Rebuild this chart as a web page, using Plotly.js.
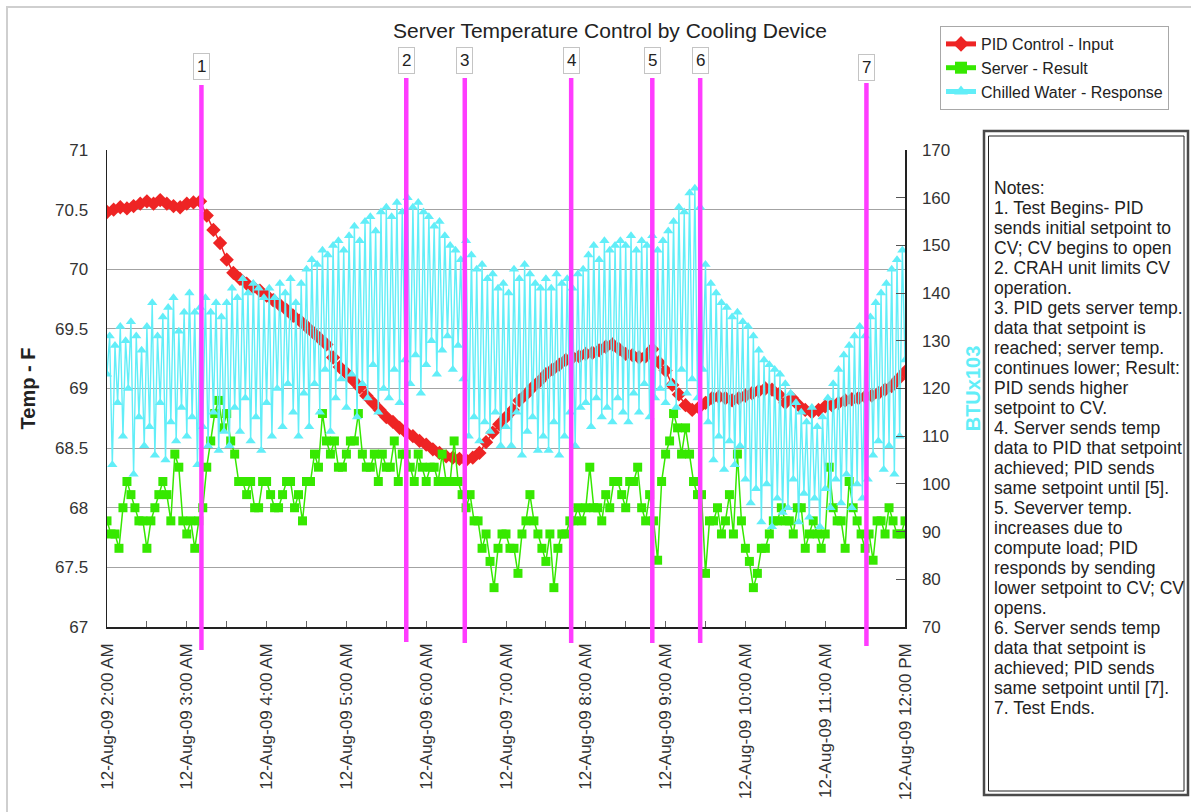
<!DOCTYPE html>
<html><head><meta charset="utf-8">
<script src="https://cdn.plot.ly/plotly-3.0.1.min.js"></script>
<style>html,body{margin:0;padding:0;background:#fff;}#chart{width:1191px;height:812px;}</style>
</head><body><div id="chart"></div>
<script>
// ---------- DATA ----------
const startHour = 2;            // 12-Aug-09 2:00 AM
const pidStepMin = 5;
const pidInput = [
 70.48,70.50,70.52,70.51,70.53,70.55,70.57,70.55,70.58,70.55,
 70.53,70.52,70.55,70.56,70.57,70.45,70.33,70.22,70.08,69.97,
 69.92,69.88,69.85,69.82,69.78,69.74,69.70,69.66,69.61,69.57,
 69.52,69.47,69.42,69.37,69.26,69.18,69.13,69.07,69.01,68.94,
 68.88,68.82,68.76,68.72,68.67,68.63,68.60,68.56,68.53,68.49,
 68.46,68.43,68.42,68.41,68.40,68.42,68.46,68.55,68.63,68.70,
 68.76,68.82,68.90,68.95,69.01,69.06,69.12,69.16,69.20,69.24,
 69.26,69.27,69.29,69.30,69.32,69.35,69.37,69.33,69.29,69.28,
 69.26,69.27,69.33,69.22,69.15,69.03,68.95,68.86,68.82,68.84,
 68.88,68.92,68.93,68.92,68.90,68.92,68.94,68.96,68.98,69.00,
 68.99,68.95,68.88,68.92,68.86,68.82,68.80,68.82,68.85,68.86,
 68.88,68.90,68.91,68.92,68.93,68.94,68.96,68.99,69.02,69.08,
 69.14];
const serverStepMin = 3;
const serverResult = [
 67.89,67.78,67.78,67.66,68.00,68.22,68.11,68.00,67.89,67.89,
 67.66,67.89,68.00,68.11,68.22,68.11,67.89,68.45,68.34,67.89,
 67.78,67.89,67.66,67.89,68.00,68.34,68.56,68.79,68.90,68.67,
 68.79,68.56,68.45,68.22,68.22,68.11,68.22,68.00,68.00,68.22,
 68.22,68.11,68.00,68.00,68.11,68.22,68.22,68.00,68.11,67.89,
 68.22,68.22,68.45,68.34,68.79,68.56,68.45,68.56,68.34,68.34,
 68.45,68.56,68.56,68.79,68.45,68.34,68.34,68.45,68.22,68.45,
 68.34,68.34,68.56,68.22,68.45,68.45,68.34,68.22,68.45,68.34,
 68.22,68.34,68.34,68.22,68.45,68.22,68.22,68.56,68.22,68.11,
 68.00,68.11,67.89,67.89,67.66,67.78,67.55,67.33,67.66,67.78,
 67.78,67.66,67.66,67.45,67.78,67.89,68.11,67.89,67.78,67.66,
 67.55,67.78,67.33,67.66,67.78,67.78,67.89,67.89,68.00,67.89,
 68.00,68.34,68.00,68.00,67.89,68.11,68.00,68.22,68.22,68.11,
 68.00,68.22,68.22,68.34,68.00,67.89,68.11,67.89,67.56,68.22,
 68.45,68.56,68.79,68.67,68.45,68.67,68.45,68.22,68.11,68.11,
 67.45,67.89,67.89,68.00,67.78,67.89,68.11,67.78,68.45,67.89,
 67.66,67.55,67.33,67.45,67.66,67.66,67.78,67.89,67.89,68.00,
 67.89,67.89,67.78,68.00,68.00,67.66,67.78,67.89,67.78,67.66,
 67.78,68.34,68.00,67.89,67.89,67.66,68.22,68.00,67.89,67.78,
 67.66,67.78,67.56,67.89,67.89,67.78,68.00,67.89,67.78,67.78,
 67.89];
const waterStepMin = 2;
const chilledWater = [
 123,131,104,129,117,133,110,130,120,134,102,131,114,128,108,
 133,112,138,106,131,117,135,105,137,113,139,109,132,116,136,
 110,140,114,136,104,137,112,139,108,136,115,138,107,135,111,
 138,108,141,116,139,111,143,118,140,109,142,114,141,107,139,
 117,141,110,139,120,142,112,140,121,143,115,138,110,142,119,
 145,112,147,121,146,115,149,124,148,111,150,118,151,122,149,
 116,152,123,154,114,151,121,155,118,156,125,153,115,157,120,
 158,118,156,124,159,117,157,126,160,121,158,127,159,119,157,
 125,156,130,154,123,155,128,152,131,150,124,149,129,147,122,
 151,110,148,114,145,109,146,113,143,111,144,115,141,108,142,
 112,140,108,145,115,143,106,146,111,144,114,142,107,141,110,
 143,107,141,113,144,106,142,110,143,115,141,108,144,116,145,
 117,148,112,150,118,147,114,151,116,149,113,150,118,151,115,
 150,113,152,119,149,115,151,121,150,114,152,118,149,120,151,
 117,153,121,155,116,158,124,157,119,161,122,162,118,158,124,
 146,113,142,105,140,110,138,103,137,109,135,104,136,108,134,
 101,133,96,131,99,128,92,126,100,125,91,124,97,123,94,
 121,95,119,101,117,92,115,98,113,93,116,97,112,91,114,
 99,118,95,121,101,124,96,127,102,129,95,131,100,133,97,
 131,101,135,106,138,109,140,103,142,108,145,102,147,110,149,
 126];
const seriesNames = ['PID Control - Input','Server - Result','Chilled Water - Response'];
const eventLabels = ['1','2','3','4','5','6','7'];
const eventTimes = ['2009-08-12 03:11','2009-08-12 05:45','2009-08-12 06:29','2009-08-12 07:49',
                    '2009-08-12 08:50','2009-08-12 09:26','2009-08-12 11:31'];
const tickTimes = [];
const tickLabels = ['12-Aug-09 2:00 AM','','12-Aug-09 3:00 AM','','12-Aug-09 4:00 AM','',
 '12-Aug-09 5:00 AM','','12-Aug-09 6:00 AM','','12-Aug-09 7:00 AM','','12-Aug-09 8:00 AM','',
 '12-Aug-09 9:00 AM','','12-Aug-09 10:00 AM','','12-Aug-09 11:00 AM','','12-Aug-09 12:00 PM'];
const notesLines = ['Notes:','1. Test Begins- PID','sends initial setpoint to','CV; CV begins to open',
 '2. CRAH unit limits CV','operation.','3. PID gets server temp.','data that setpoint is',
 'reached; server temp.','continues lower; Result:','PID sends higher','setpoint to CV.',
 '4. Server sends temp','data to PID that setpoint','achieved; PID sends','same setpoint until [5].',
 '5. Severver temp.','increases due to','compute load; PID','responds by sending',
 'lower setpoint to CV; CV','opens.','6. Server sends temp','data that setpoint is',
 'achieved; PID sends','same setpoint until [7].','7. Test Ends.'];

// ---------- helpers ----------
function timeAt(min){
  const t = startHour*60 + min;
  const h = Math.floor(t/60), m = t%60;
  return '2009-08-12 ' + String(h).padStart(2,'0') + ':' + String(m).padStart(2,'0');
}
function times(n, step){ const a=[]; for(let i=0;i<n;i++) a.push(timeAt(i*step)); return a; }
for (let i=0;i<tickLabels.length;i++) tickTimes.push(timeAt(i*30));

// pixel -> paper helpers (plot area 107..905 x 150..627)
const L=107, R=905, T=150, B=627;
const px = x => (x-L)/(R-L);
const py = y => (B-y)/(B-T);

const FONT = 'Liberation Sans, Arial, sans-serif';
const RED='#ee2424', GREEN='#36e800', CYAN='#62eef8', MAG='#ff3cff';

const traces = [
 {x: times(pidInput.length,pidStepMin), y: pidInput, name: seriesNames[0], type:'scatter', mode:'lines+markers',
  line:{color:RED,width:1.5}, marker:{symbol:'diamond',size:11,color:RED}, yaxis:'y'},
 {x: times(serverResult.length,serverStepMin), y: serverResult, name: seriesNames[1], type:'scatter', mode:'lines+markers',
  line:{color:GREEN,width:1.5}, marker:{symbol:'square',size:9,color:GREEN}, yaxis:'y'},
 {x: times(chilledWater.length,waterStepMin), y: chilledWater, name: seriesNames[2], type:'scatter', mode:'lines+markers',
  line:{color:CYAN,width:1.4}, marker:{symbol:'triangle-up',size:9,color:CYAN}, yaxis:'y2'}
];

// event line vertical extents / label centers (pixels)
const evTop = [85,78,78,78,78,78,83];
const evBot = [650,642,643,643,643,643,646];
const evLab = [67,61,61,61,61,61,68];

const shapes = [
 {type:'rect', xref:'paper', yref:'paper', x0:px(7), x1:px(1240), y0:py(7), y1:py(900),
  line:{color:'#cfcfcf',width:2}, layer:'below'},
 {type:'rect', xref:'paper', yref:'paper', x0:px(984), x1:px(1188), y0:py(131), y1:py(795),
  line:{color:'#4a4a4a',width:2.5}},
 {type:'rect', xref:'paper', yref:'paper', x0:px(988.5), x1:px(1184), y0:py(136), y1:py(791),
  line:{color:'#222',width:1}}
];
const annotations = [];
eventTimes.forEach((t,i)=>{
  shapes.push({type:'line', xref:'x', yref:'paper', x0:t, x1:t, y0:py(evBot[i]), y1:py(evTop[i]),
    line:{color:MAG,width:4.5}});
  annotations.push({xref:'x', yref:'paper', x:t, y:py(evLab[i]), text:eventLabels[i], showarrow:false,
    xanchor:'center', yanchor:'middle', bgcolor:'#fff', bordercolor:'#c4c4c4', borderwidth:1, borderpad:3,
    font:{family:FONT,size:17,color:'#222'}});
});
notesLines.forEach((s,i)=>{
  annotations.push({xref:'paper', yref:'paper', x:px(992), y:py(188+20.0*i), text:s, showarrow:false,
    xanchor:'left', yanchor:'middle', font:{family:FONT,size:17.5,color:'#222'}});
});

const layout = {
  width:1191, height:812,
  margin:{l:L, r:1191-R, t:T, b:812-B, pad:0},
  paper_bgcolor:'#fff', plot_bgcolor:'#fff',
  font:{family:FONT, color:'#333'},
  title:{text:'Server Temperature Control by Cooling Device', xref:'container', yref:'container',
    x:610/1191, y:1-31/812, xanchor:'center', yanchor:'middle', font:{family:FONT,size:21,color:'#222'}},
  showlegend:true,
  legend:{x:px(940), y:py(26), xanchor:'left', yanchor:'top', bgcolor:'#fff', bordercolor:'#a8a8a8',
    borderwidth:1, font:{family:FONT,size:16,color:'#222'}, traceorder:'normal', itemsizing:'constant'},
  xaxis:{type:'date', range:['2009-08-12 02:00','2009-08-12 12:00'], tickmode:'array',
    tickvals:tickTimes, ticktext:tickLabels, tickangle:-90, ticks:'inside', ticklen:6, tickcolor:'#666',
    ticklabelstandoff:8, tickfont:{family:FONT,size:17,color:'#333'},
    showline:true, linecolor:'#222', linewidth:1.5, showgrid:false, zeroline:false},
  yaxis:{range:[67,71], dtick:0.5, tick0:67, ticks:'', ticklabelstandoff:14,
    tickfont:{family:FONT,size:17,color:'#333'}, showgrid:true, gridcolor:'#a3a3a3', gridwidth:1.2,
    showline:true, linecolor:'#222', linewidth:1.5, zeroline:false,
    title:{text:'<b>Temp - F</b>', font:{family:FONT,size:20,color:'#222'}, standoff:14}},
  yaxis2:{range:[70,170], dtick:10, tick0:70, overlaying:'y', side:'right', ticks:'inside', ticklen:9,
    tickcolor:'#555', ticklabelstandoff:12, tickfont:{family:FONT,size:17,color:'#333'},
    showgrid:false, showline:true, linecolor:'#222', linewidth:1.5, zeroline:false,
    title:{text:'<b>BTUx103</b>', font:{family:FONT,size:20,color:CYAN}, standoff:16}},
  shapes:shapes, annotations:annotations
};
Plotly.newPlot('chart', traces, layout, {staticPlot:true, displayModeBar:false});
</script></body></html>
